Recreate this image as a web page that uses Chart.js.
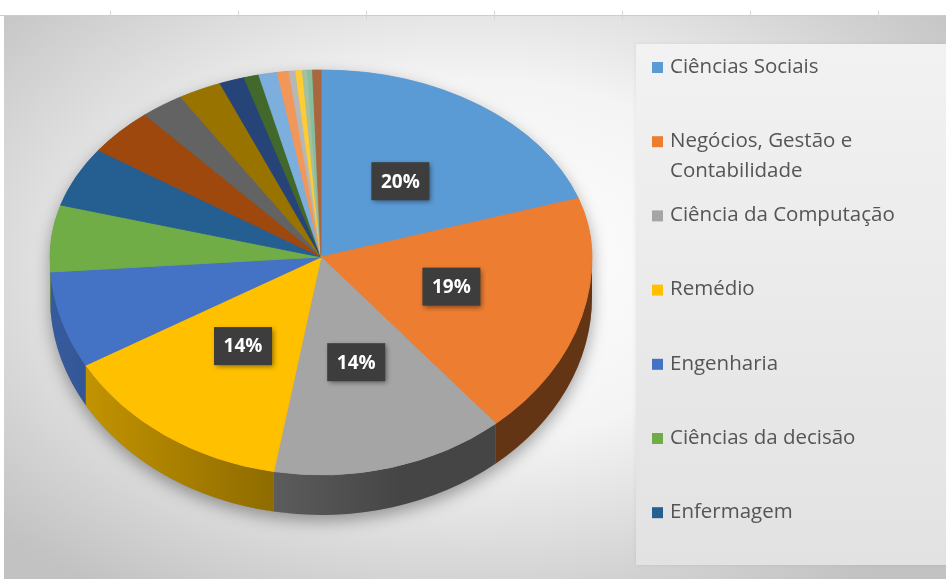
<!DOCTYPE html>
<html>
<head>
<meta charset="utf-8">
<script src="https://cdn.jsdelivr.net/npm/chart.js@4.4.1/dist/chart.umd.min.js"></script>
<style>
  html, body { margin: 0; padding: 0; background: #fff; }
  #wrap { width: 946px; height: 579px; }
</style>
</head>
<body>
<div id="wrap"><canvas id="pie" width="946" height="579"></canvas></div>
<script>
// areas (only the first 7 fit in the legend box of the original)
const categories = [
    "Ciências Sociais",
    "Negócios, Gestão e Contabilidade",
    "Ciência da Computação",
    "Remédio",
    "Engenharia",
    "Ciências da decisão",
    "Enfermagem",
    "Psicologia",
    "Economia, Econometria e Finanças",
    "Artes e Humanidades",
    "Matemática",
    "Ciência Ambiental",
    "Profissões da Saúde",
    "Energia",
    "Ciências da Terra e Planetárias",
    "Ciências Agrícolas e Biológicas",
    "Multidisciplinar",
    "Bioquímica, Genética e Biologia Molecular",
    "Física e Astronomia",
];
const shares = [20, 19, 14, 14, 7.2, 5.6, 5.2, 4.1, 2.6, 2.6, 1.5, 0.9, 1.1, 0.7, 0.4, 0.4, 0.3, 0.3, 0.5];
const sliceColors = [
    "#5B9BD5", "#ED7D31", "#A5A5A5", "#FFC000", "#4472C4", "#70AD47",
    "#255E91", "#9E480E", "#636363", "#997300", "#264478", "#43682B",
    "#7CAFDD", "#F1975A", "#B7B7B7", "#FFCD33", "#A5C0A0", "#86BEA0", "#A9673F",
];
const legendCount = 7;
const labelMinPct = 10;

// look of the tilted pie
const tiltTop = 0.69;
const tiltBottom = 0.804;
const depth = 40;

const shade = (hex, f) => {
    const n = parseInt(hex.slice(1), 16);
    const r = Math.round(((n >> 16) & 255) * f);
    const g = Math.round(((n >> 8) & 255) * f);
    const b = Math.round((n & 255) * f);
    return `rgb(${r},${g},${b})`;
};

const backdrop = {
    id: "backdrop",
    beforeDraw(chart) {
        const { ctx, width, height } = chart;
        ctx.save();
        ctx.fillStyle = "#fff";
        ctx.fillRect(0, 0, width, height);
        // chart area gradient
        ctx.save();
        ctx.beginPath();
        ctx.rect(4, 16, width - 4, height - 16);
        ctx.clip();
        ctx.fillStyle = "#c2c2c2";
        ctx.fillRect(0, 0, width, height);
        ctx.translate(470, 260);
        ctx.scale(1.6, 1);
        const g = ctx.createRadialGradient(0, 0, 0, 0, 0, 400);
        g.addColorStop(0, "#ffffff");
        g.addColorStop(0.45, "#f4f4f4");
        g.addColorStop(1, "#c2c2c2");
        ctx.fillStyle = g;
        ctx.fillRect(-400, -400, 800, 800);
        ctx.restore();
        // ruler line on top
        ctx.strokeStyle = "#cdcdcd";
        ctx.lineWidth = 1;
        ctx.beginPath();
        ctx.moveTo(0, 15.5);
        ctx.lineTo(width, 15.5);
        ctx.stroke();
        ctx.strokeStyle = "#d6d6d6";
        for (let x = 110; x < width; x += 128) {
            ctx.beginPath();
            ctx.moveTo(x + 0.5, 11);
            ctx.lineTo(x + 0.5, 20);
            ctx.stroke();
        }
        // legend panel
        ctx.shadowColor = "rgba(0,0,0,0.08)";
        ctx.shadowBlur = 4;
        const lg = ctx.createLinearGradient(0, 44, 0, 565);
        lg.addColorStop(0, "#f2f2f2");
        lg.addColorStop(1, "#e2e2e2");
        ctx.fillStyle = lg;
        ctx.fillRect(636, 44, width - 636, 521);
        ctx.restore();
    },
};

const tiltedPie = {
    id: "tiltedPie",
    beforeDatasetsDraw(chart) {
        const { ctx } = chart;
        const arcs = chart.getDatasetMeta(0).data;
        const { x, y, outerRadius: R } = arcs[0];
        const ryT = R * tiltTop;
        const ryB = R * tiltBottom;

        // silhouette with soft shadow
        ctx.save();
        ctx.shadowColor = "rgba(0,0,0,0.35)";
        ctx.shadowBlur = 16;
        ctx.shadowOffsetY = 6;
        ctx.fillStyle = "#888";
        ctx.beginPath();
        ctx.ellipse(x, y, R, ryT, 0, Math.PI, 2 * Math.PI);
        ctx.lineTo(x + R, y + depth);
        ctx.ellipse(x, y + depth, R, ryB, 0, 0, Math.PI);
        ctx.closePath();
        ctx.fill();
        ctx.restore();

        // side walls of the front half
        arcs.forEach((a, i) => {
            const a1 = Math.max(a.startAngle, 0);
            const a2 = Math.min(a.endAngle, Math.PI);
            if (a2 <= a1) return;
            const c = sliceColors[i];
            const sg = ctx.createLinearGradient(x - R, 0, x + R * 0.3, 0);
            sg.addColorStop(0, shade(c, 0.8));
            sg.addColorStop(1, shade(c, 0.42));
            ctx.save();
            ctx.fillStyle = sg;
            ctx.beginPath();
            ctx.ellipse(x, y, R, ryB, 0, a1, a2);
            ctx.ellipse(x, y + depth, R, ryB, 0, a2, a1, true);
            ctx.closePath();
            ctx.fill();
            ctx.restore();
        });

        // top face: back half and front half squashed differently
        [[0, y + 0.5, tiltTop], [y - 0.5, chart.height, tiltBottom]].forEach(([y0, y1, k]) => {
            ctx.save();
            ctx.beginPath();
            ctx.rect(0, y0, chart.width, y1 - y0);
            ctx.clip();
            ctx.translate(x, y);
            ctx.scale(1, k);
            ctx.translate(-x, -y);
            arcs.forEach((a) => a.draw(ctx));
            ctx.restore();
        });
        return false;
    },
    afterDraw(chart) {
        const { ctx } = chart;
        const arcs = chart.getDatasetMeta(0).data;
        const { x, y } = arcs[0];
        const total = shares.reduce((s, v) => s + v, 0);

        // percentage labels
        arcs.forEach((a, i) => {
            const pct = Math.round((shares[i] / total) * 100);
            if (pct < labelMinPct) return;
            const p = a.tooltipPosition();
            const px = p.x;
            const py = y + (p.y - y) * (p.y < y ? tiltTop : tiltBottom);
            ctx.save();
            ctx.shadowColor = "rgba(0,0,0,0.45)";
            ctx.shadowBlur = 5;
            ctx.shadowOffsetX = 2;
            ctx.shadowOffsetY = 2;
            ctx.fillStyle = "#3d3d3d";
            ctx.fillRect(px - 29, py - 19, 58, 38);
            ctx.restore();
            ctx.save();
            ctx.fillStyle = "#fff";
            ctx.font = 'bold 19px "Open Sans"';
            ctx.textAlign = "center";
            ctx.textBaseline = "middle";
            ctx.fillText(pct + "%", px, py + 1);
            ctx.restore();
        });

        // legend
        ctx.save();
        ctx.font = '20.5px "Open Sans"';
        ctx.textBaseline = "middle";
        for (let i = 0; i < legendCount; i++) {
            const yc = 67 + i * 74.2;
            const words = categories[i].split(" ");
            const lines = [];
            let line = "";
            words.forEach((w) => {
                const t = line ? line + " " + w : w;
                if (line && ctx.measureText(t).width > 255) {
                    lines.push(line);
                    line = w;
                } else line = t;
            });
            lines.push(line);
            ctx.fillStyle = sliceColors[i];
            ctx.fillRect(652, yc - 5, 11, 11);
            ctx.fillStyle = "#555555";
            lines.forEach((l, j) => ctx.fillText(l, 670, yc + j * 30));
        }
        ctx.restore();
    },
};

new Chart(document.getElementById("pie"), {
    type: "pie",
    data: {
        labels: categories,
        datasets: [
            {
                data: shares,
                backgroundColor: sliceColors,
                borderColor: sliceColors,
                borderWidth: 1,
                radius: 271,
            },
        ],
    },
    options: {
        responsive: false,
        animation: false,
        devicePixelRatio: 1,
        layout: { padding: { left: 51, right: 355, top: 17, bottom: 82 } },
        plugins: {
            legend: { display: false },
            tooltip: { enabled: false },
        },
    },
    plugins: [backdrop, tiltedPie],
});
</script>
</body>
</html>
